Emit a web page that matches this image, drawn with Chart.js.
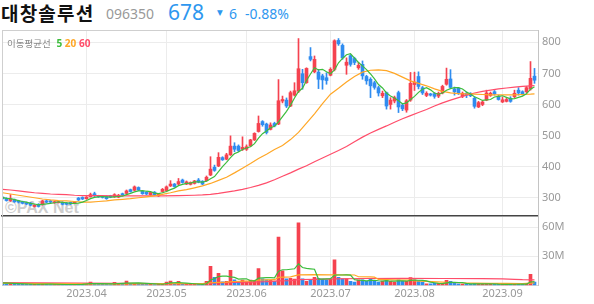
<!DOCTYPE html>
<html lang="ko">
<head>
<meta charset="UTF-8">
<title>대창솔루션 일봉</title>
<script src="https://cdn.jsdelivr.net/npm/chart.js"></script>
<style>
  html, body { margin: 0; padding: 0; background: #fff; }
  #wrap { position: relative; width: 594px; height: 304px; overflow: hidden; }
  .t { position: absolute; white-space: nowrap; line-height: 1; }
  #name { left: 1px; top: -1px; font: bold 19px "Noto Sans CJK KR"; letter-spacing: 1.2px; color: #111; }
  #code { left: 106px; top: 4px; font: 14px "Noto Sans"; color: #999; }
  #price { left: 168px; top: -2px; font: 21px "Noto Sans"; color: #2e97ef; }
  #arrow { left: 217px; top: 8px; font: 7.5px "DejaVu Sans"; color: #2e97ef; }
  #chg { left: 229px; top: 4px; font: 14px "Noto Sans"; color: #2e97ef; }
  #pct { left: 245px; top: 4px; font: 14px "Noto Sans"; color: #2e97ef; }
  #maLegend { left: 7px; top: 36px; font: 9.5px "Noto Sans CJK KR"; color: #888; }
  #maLegend b { font: bold 10px "Noto Sans"; }
  #mark { left: 5px; top: 199px; font: bold 16px "Liberation Sans"; color: #cdcdcd; }
  canvas { position: absolute; left: 0; }
</style>
</head>
<body>
<div id="wrap">
  <div class="t" id="name">대창솔루션</div>
  <div class="t" id="code">096350</div>
  <div class="t" id="price">678</div>
  <div class="t" id="arrow">▼</div>
  <div class="t" id="chg">6</div>
  <div class="t" id="pct">-0.88%</div>
  <div class="t" id="mark">©PAX Net</div>
  <canvas id="priceChart" width="594" height="210" style="top:18px"></canvas>
  <canvas id="volChart" width="594" height="99" style="top:205px"></canvas>
  <div class="t" id="maLegend">이동평균선 <b style="color:#3dbd3d;margin-left:3px">5</b> <b style="color:#ffa726">20</b> <b style="color:#ff4d6a">60</b></div>
</div>

<script>
// 2023.03.03 ~ 2023.09.13 일봉 (134 거래일)
const monthStarts = [21, 41, 61, 82, 103, 125];
const monthLabels = ['2023.04', '2023.05', '2023.06', '2023.07', '2023.08', '2023.09'];
const priceTicks = [300, 400, 500, 600, 700, 800];
const volTicks = [30, 60];

const opens = [302,298,291,294,290,287,284,283,272,279,
  278,290,290,284,284,285,283,285,283,299,
  301,297,303,313,306,305,304,306,303,302,
  313,314,326,324,333,321,318,310,318,306,
  320,323,338,344,344,357,344,343,346,357,
  353,355,373,398,402,429,424,438,466,466,
  456,456,467,486,513,545,537,520,539,537,
  611,614,595,630,643,699,670,754,705,704,
  692,686,694,713,806,790,726,757,748,718,
  729,690,681,670,654,628,638,600,611,638,
  598,582,614,664,690,654,629,634,635,627,
  637,665,682,650,652,627,636,636,620,592,
  600,614,629,641,626,608,610,620,625,646,
  641,641,650,691];
const highs = [304,300,310,296,292,289,286,285,278,281,
  292,292,292,289,289,287,285,286,286,301,
  303,304,315,318,308,307,306,308,313,311,
  315,325,328,338,335,323,320,319,320,314,
  330,338,355,346,362,360,354,351,356,362,
  355,370,432,405,445,432,443,499,477,470,
  496,470,488,509,563,548,540,541,543,680,
  627,621,643,670,812,713,718,783,756,713,
  697,702,718,808,812,795,750,760,752,735,
  740,694,686,675,659,643,640,622,627,643,
  603,616,703,704,705,658,641,636,638,640,
  662,717,712,656,655,640,640,638,624,610,
  612,646,640,645,630,624,622,625,646,654,
  644,658,738,716];
const lows = [295,289,288,285,283,280,278,274,270,270,
  276,284,284,282,283,277,277,278,281,291,
  294,295,302,304,301,299,295,300,301,300,
  307,312,318,322,323,311,310,308,308,304,
  318,321,336,334,342,347,342,341,344,348,
  342,353,371,385,400,420,422,436,448,448,
  452,452,465,484,511,530,505,518,528,535,
  605,590,593,627,638,649,668,740,702,651,
  649,665,692,708,790,745,697,723,728,713,
  681,665,622,649,627,622,585,585,605,574,
  580,575,610,645,650,632,625,627,620,622,
  634,662,652,630,632,622,622,625,588,590,
  596,612,626,630,614,606,608,607,622,630,
  630,638,646,668];
const closes = [297,291,296,287,286,282,280,276,276,272,
  290,286,286,287,287,279,279,280,284,293,
  296,302,310,306,303,301,297,302,310,308,
  309,322,320,335,325,313,312,317,310,312,
  327,335,344,336,352,349,351,349,354,350,
  344,366,392,388,430,422,438,466,456,452,
  462,464,486,507,539,535,510,534,531,612,
  616,595,638,644,715,670,716,745,745,681,
  679,677,713,805,795,750,736,729,735,726,
  692,676,660,655,637,636,595,614,622,592,
  586,612,668,672,658,637,636,630,626,636,
  658,681,655,641,637,636,630,628,594,606,
  608,637,636,634,616,615,616,610,636,637,
  634,654,684,678];
// 거래량 (백만 주)
const volumes = [3.0,1.5,2.0,1.2,1.0,1.0,0.9,1.2,1.0,1.0,
  2.0,1.0,0.8,0.8,0.8,1.0,0.8,0.8,0.8,1.5,
  1.2,1.5,3.3,1.5,1.0,1.0,1.0,0.8,3.0,1.5,
  1.2,4.3,1.5,2.0,1.5,1.0,1.0,1.0,0.8,1.0,
  1.5,3.3,4.3,1.2,4.0,1.2,1.0,1.0,1.2,1.0,
  1.0,4.0,19.6,8.3,12.3,3.5,4.0,15.3,5.6,3.5,
  5.5,3.5,5.5,4.5,17.3,6.6,5.6,5.0,4.0,49.6,
  15.0,6.6,7.3,6.5,64.3,6.6,4.0,5.6,8.3,7.3,
  6.3,5.6,6.3,26.3,8.3,6.6,6.6,4.0,3.3,5.6,
  5.6,4.0,6.6,4.0,3.3,4.3,5.6,4.0,3.3,5.6,
  4.0,4.0,8.0,5.6,4.5,3.3,1.5,1.5,2.0,2.0,
  2.0,5.0,4.0,2.0,1.5,1.2,1.5,1.2,2.0,1.5,
  1.2,2.0,1.2,1.0,1.0,1.0,1.0,1.0,1.5,1.5,
  1.0,1.5,11.3,3.3];

// 이동평균선
const ma5 = [301,298,297,294,291,288,286,282,280,277,
  279,280,282,284,287,285,284,282,282,283,
  286,291,297,301,303,304,303,302,303,304,
  305,310,314,319,322,323,321,320,315,313,
  316,320,326,331,339,343,346,347,351,351,
  350,353,361,368,384,400,414,429,442,447,
  455,460,464,474,492,506,515,525,530,544,
  561,578,598,621,642,652,677,698,718,711,
  713,705,699,711,734,748,760,763,749,735,
  724,712,698,682,664,653,637,627,621,612,
  602,605,616,626,639,649,654,647,637,633,
  637,646,651,654,654,650,640,634,625,619,
  613,615,616,624,626,628,623,618,619,623,
  627,634,649,657];
const ma20 = [[0,316],[2,312],[4,308],[6,304],[8,300],[10,296],[12,293],[14,291],[16,290],[18,288],
  [20,286],[22,286],[24,288],[26,290],[28,293],[30,295],[32,297],[34,300],[36,303],[38,306],
  [40,311],[42,316],[44,322],[46,326],[48,332],[50,338],[52,346],[54,356],[56,366],[58,380],
  [60,395],[62,410],[64,426],[66,440],[68,455],[70,468],[72,487],[74,510],[76,540],[78,570],
  [80,603],[82,633],[84,652],[86,672],[88,690],[90,704],[92,710],[94,711],[96,709],[98,700],
  [100,688],[102,676],[104,668],[106,660],[108,650],[110,642],[112,637],[114,635],[116,634],[118,633],
  [120,632],[122,631],[124,631],[126,631],[128,631],[130,632],[132,633],[133,634]];
const ma60 = [[0,327],[2,325],[4,322],[6,319],[8,316],[10,314],[12,312],[14,311],[16,310],[18,308],
  [20,307],[24,307],[28,306],[32,306],[36,306],[40,306],[44,307],[48,308],[50,309],[52,311],
  [54,314],[56,318],[58,322],[60,327],[62,333],[64,340],[66,348],[68,358],[70,369],[72,380],
  [74,392],[76,403],[78,416],[80,428],[82,440],[84,452],[86,465],[88,480],[90,495],[92,508],
  [94,520],[96,531],[98,543],[100,554],[102,564],[104,574],[106,584],[108,595],[110,605],[112,614],
  [114,622],[116,630],[118,637],[120,642],[122,646],[124,650],[126,653],[128,656],[130,658],[132,660],[133,661]];
const volMa5 = [[0,2.5],[4,1.7],[8,1.1],[12,1.2],[16,0.8],[20,1.0],[22,1.7],[24,1.7],[28,1.4],[31,2.3],
  [34,2.5],[36,2.0],[40,1.1],[42,2.4],[44,2.9],[46,2.3],[48,1.6],[50,1.0],[51,1.6],[52,5.4],
  [53,6.9],[54,9.0],[55,9.5],[56,9.5],[57,8.6],[58,8.1],[59,6.4],[60,6.7],[61,6.7],[62,4.7],
  [63,4.5],[64,7.3],[65,7.6],[66,7.9],[67,7.8],[68,7.7],[69,14.5],[70,16.0],[71,16.0],[72,16.5],
  [73,17.0],[74,22.0],[75,18.3],[76,17.5],[77,17.0],[78,16.5],[79,6.4],[80,6.3],[81,6.6],[82,6.8],
  [83,10.4],[84,10.6],[85,10.6],[86,10.8],[87,10.4],[88,5.8],[89,5.2],[90,5.0],[91,4.5],[92,5.0],
  [93,5.2],[94,4.7],[95,4.4],[96,4.8],[97,4.2],[98,4.2],[99,4.6],[100,4.5],[101,4.2],[102,5.0],
  [103,5.4],[104,5.2],[105,5.1],[106,4.6],[107,3.3],[108,2.6],[109,1.9],[110,1.8],[111,2.5],[112,3.0],
  [113,3.0],[114,2.9],[115,2.7],[116,2.0],[117,1.5],[120,1.5],[122,1.6],[124,1.2],[126,1.0],[128,1.1],
  [130,1.2],[131,1.3],[132,3.4],[133,3.7]];
const volMa20 = [[0,2.0],[10,1.8],[20,1.4],[30,1.5],[40,1.7],[50,1.8],[52,2.6],[54,3.1],[56,3.3],[58,3.9],
  [60,4.2],[62,4.6],[64,5.4],[66,5.6],[68,5.8],[69,8.1],[72,8.6],[74,10.8],[78,11.0],[82,10.8],
  [86,10.8],[88,10.6],[89,8.8],[92,8.6],[93,8.4],[94,6.0],[98,5.6],[102,5.4],[103,4.6],[106,4.0],
  [110,3.3],[114,2.6],[118,2.3],[122,2.0],[126,1.9],[130,1.8],[132,2.3],[133,2.4]];
const volMa60 = [[0,2.8],[10,2.5],[20,2.2],[30,1.9],[40,1.8],[50,1.8],[52,2.1],[55,2.6],[58,3.0],[62,3.3],
  [66,3.7],[69,4.5],[72,4.8],[74,5.9],[78,6.2],[83,6.7],[90,7.0],[100,7.1],[110,7.0],[120,6.8],
  [125,6.6],[128,6.2],[130,5.8],[133,5.6]];

const UP = '#f5424f';
const DOWN = '#2f8cf0';
const C5 = '#3dbd3d', C20 = '#ffa726', C60 = '#ff4d6a';

Chart.defaults.font.family = "'Noto Sans', sans-serif";
Chart.defaults.animation = false;
Chart.defaults.plugins.legend.display = false;
Chart.defaults.plugins.tooltip.enabled = false;

const days = closes.map((c, i) => i);
const barColors = days.map(i => closes[i] >= opens[i] ? UP : DOWN);
const pts = arr => arr.map(p => ({ x: p[0], y: p[1] }));

function maLine(data, color, order) {
  return { type: 'line', data: data, borderColor: color, borderWidth: 1.2,
           pointRadius: 0, tension: 0, order: order };
}

// 차트 영역 위/왼쪽 테두리
const boxBorder = {
  id: 'boxBorder',
  afterDraw(chart, args, opts) {
    const { ctx, chartArea: a } = chart;
    ctx.save();
    ctx.strokeStyle = '#cfcfcf';
    ctx.lineWidth = 1;
    ctx.beginPath();
    if (opts.top) { ctx.moveTo(a.left, a.top + 0.5); ctx.lineTo(a.right, a.top + 0.5); }
    ctx.moveTo(a.left + 0.5, a.top); ctx.lineTo(a.left + 0.5, a.bottom);
    ctx.stroke();
    ctx.restore();
  }
};

const xRange = { type: 'linear', min: -0.125, max: 133.875, offset: false };

function monthTicks(scale) {
  scale.ticks = monthStarts.map(v => ({ value: v }));
}

new Chart(document.getElementById('priceChart'), {
  type: 'bar',
  data: {
    datasets: [
      maLine(ma5.map((v, i) => ({ x: i, y: v })), C5, 1),
      maLine(pts(ma20), C20, 2),
      maLine(pts(ma60), C60, 3),
      { data: days.map(i => ({ x: i, y: [Math.min(opens[i], closes[i]), Math.max(opens[i], closes[i])] })),
        backgroundColor: barColors, barThickness: 3, minBarLength: 1, grouped: false, order: 4 },
      { data: days.map(i => ({ x: i, y: [lows[i], highs[i]] })),
        backgroundColor: barColors, barThickness: 1, grouped: false, order: 5 }
    ]
  },
  options: {
    responsive: false,
    devicePixelRatio: 1,
    layout: { padding: { top: 12, bottom: 12, left: 2, right: 0 } },
    plugins: { boxBorder: { top: true } },
    scales: {
      x: Object.assign({}, xRange, {
        afterBuildTicks: monthTicks,
        ticks: { display: false },
        grid: { color: '#ececec', drawTicks: false, offset: false },
        border: { display: true, color: '#444', width: 1.5 }
      }),
      y: {
        position: 'right', min: 241.3, max: 839.5, beginAtZero: false,
        afterBuildTicks: s => { s.ticks = priceTicks.map(v => ({ value: v })); },
        afterFit: s => { s.width = 56; },
        ticks: { color: '#999', font: { size: 11 }, padding: 4 },
        grid: { color: '#ececec', drawTicks: false },
        border: { color: '#c4c4c4' }
      }
    }
  },
  plugins: [boxBorder]
});

new Chart(document.getElementById('volChart'), {
  type: 'bar',
  data: {
    datasets: [
      maLine(pts(volMa5), C5, 1),
      maLine(pts(volMa20), C20, 2),
      maLine(pts(volMa60), C60, 3),
      { data: days.map(i => ({ x: i, y: volumes[i] })),
        backgroundColor: barColors, barThickness: 3, grouped: false, order: 4 }
    ]
  },
  options: {
    responsive: false,
    devicePixelRatio: 1,
    layout: { padding: { top: 12, bottom: 1.5, left: 2, right: 0 } },
    plugins: { boxBorder: { top: false } },
    scales: {
      x: Object.assign({}, xRange, {
        afterBuildTicks: monthTicks,
        ticks: {
          color: '#999', font: { size: 11 }, padding: 2, maxRotation: 0, autoSkip: false,
          callback: v => monthLabels[monthStarts.indexOf(v)]
        },
        grid: { color: '#ececec', drawTicks: false, offset: false },
        border: { display: true, color: '#d6d6d6' }
      }),
      y: {
        position: 'right', min: 0, max: 70.3,
        afterBuildTicks: s => { s.ticks = volTicks.map(v => ({ value: v })); },
        afterFit: s => { s.width = 56; },
        ticks: { color: '#999', font: { size: 11 }, padding: 4, callback: v => v + 'M' },
        grid: { color: '#ececec', drawTicks: false },
        border: { color: '#c4c4c4' }
      }
    }
  },
  plugins: [boxBorder]
});
</script>
</body>
</html>
